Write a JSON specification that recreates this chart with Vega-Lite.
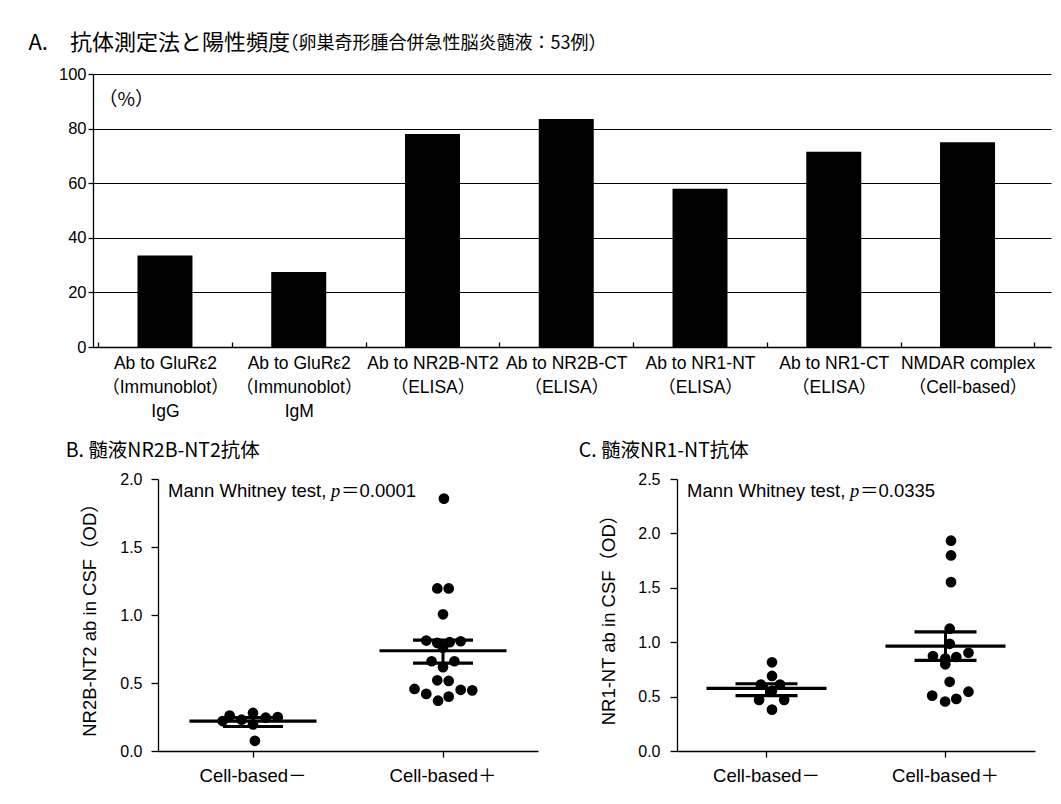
{
  "$schema": "https://vega.github.io/schema/vega-lite/v6.json",
  "background": "white",
  "padding": {"left": 28, "top": 32, "right": 5, "bottom": 5},
  "title": {"text": "A.　抗体測定法と陽性頻度", "anchor": "start", "frame": "bounds", "fontSize": 22, "font": "Noto Sans CJK JP", "fontWeight": "normal", "color": "#000", "dx": -30, "dy": 20, "offset": 0},
  "datasets": {
    "methods": [
      {"method": "Ab to GluRε2\n（Immunoblot）\nIgG", "percent": 33.5},
      {"method": "Ab to GluRε2\n（Immunoblot）\nIgM", "percent": 27.5},
      {"method": "Ab to NR2B-NT2\n（ELISA）", "percent": 78},
      {"method": "Ab to NR2B-CT\n（ELISA）", "percent": 83.5},
      {"method": "Ab to NR1-NT\n（ELISA）", "percent": 58},
      {"method": "Ab to NR1-CT\n（ELISA）", "percent": 71.5},
      {"method": "NMDAR complex\n（Cell-based）", "percent": 75}
    ],
    "B_dots": [
      {"group": "Cell-based－", "od": 0.26, "jitter": -0.123},
      {"group": "Cell-based－", "od": 0.28, "jitter": 0},
      {"group": "Cell-based－", "od": 0.245, "jitter": 0.067},
      {"group": "Cell-based－", "od": 0.25, "jitter": 0.13},
      {"group": "Cell-based－", "od": 0.23, "jitter": -0.06},
      {"group": "Cell-based－", "od": 0.195, "jitter": 0},
      {"group": "Cell-based－", "od": 0.075, "jitter": 0.01},
      {"group": "Cell-based－", "od": 0.22, "jitter": -0.16},
      {"group": "Cell-based＋", "od": 1.856, "jitter": 0.005},
      {"group": "Cell-based＋", "od": 1.195, "jitter": -0.03},
      {"group": "Cell-based＋", "od": 1.195, "jitter": 0.03},
      {"group": "Cell-based＋", "od": 1.005, "jitter": 0},
      {"group": "Cell-based＋", "od": 0.812, "jitter": -0.088},
      {"group": "Cell-based＋", "od": 0.795, "jitter": -0.03},
      {"group": "Cell-based＋", "od": 0.8, "jitter": 0.035},
      {"group": "Cell-based＋", "od": 0.807, "jitter": 0.093},
      {"group": "Cell-based＋", "od": 0.76, "jitter": 0},
      {"group": "Cell-based＋", "od": 0.66, "jitter": -0.06},
      {"group": "Cell-based＋", "od": 0.66, "jitter": 0.06},
      {"group": "Cell-based＋", "od": 0.617, "jitter": 0},
      {"group": "Cell-based＋", "od": 0.52, "jitter": -0.03},
      {"group": "Cell-based＋", "od": 0.515, "jitter": 0.03},
      {"group": "Cell-based＋", "od": 0.456, "jitter": -0.15},
      {"group": "Cell-based＋", "od": 0.42, "jitter": -0.088},
      {"group": "Cell-based＋", "od": 0.37, "jitter": -0.026},
      {"group": "Cell-based＋", "od": 0.4, "jitter": 0.03},
      {"group": "Cell-based＋", "od": 0.45, "jitter": 0.093},
      {"group": "Cell-based＋", "od": 0.446, "jitter": 0.154}
    ],
    "B_stats": [
      {"group": "Cell-based－", "mean": 0.22, "hi": 0.245, "lo": 0.18},
      {"group": "Cell-based＋", "mean": 0.737, "hi": 0.815, "lo": 0.646}
    ],
    "C_dots": [
      {"group": "Cell-based－", "od": 0.815, "jitter": 0},
      {"group": "Cell-based－", "od": 0.69, "jitter": 0},
      {"group": "Cell-based－", "od": 0.61, "jitter": -0.059},
      {"group": "Cell-based－", "od": 0.61, "jitter": 0.042},
      {"group": "Cell-based－", "od": 0.555, "jitter": 0},
      {"group": "Cell-based－", "od": 0.47, "jitter": -0.068},
      {"group": "Cell-based－", "od": 0.47, "jitter": 0.064},
      {"group": "Cell-based－", "od": 0.38, "jitter": 0},
      {"group": "Cell-based＋", "od": 1.933, "jitter": 0},
      {"group": "Cell-based＋", "od": 1.797, "jitter": 0},
      {"group": "Cell-based＋", "od": 1.552, "jitter": 0},
      {"group": "Cell-based＋", "od": 1.124, "jitter": -0.007},
      {"group": "Cell-based＋", "od": 0.985, "jitter": -0.007},
      {"group": "Cell-based＋", "od": 0.873, "jitter": -0.095},
      {"group": "Cell-based＋", "od": 0.85, "jitter": -0.03},
      {"group": "Cell-based＋", "od": 0.864, "jitter": 0.028},
      {"group": "Cell-based＋", "od": 0.903, "jitter": 0.092},
      {"group": "Cell-based＋", "od": 0.797, "jitter": -0.03},
      {"group": "Cell-based＋", "od": 0.636, "jitter": -0.007},
      {"group": "Cell-based＋", "od": 0.509, "jitter": -0.099},
      {"group": "Cell-based＋", "od": 0.455, "jitter": -0.031},
      {"group": "Cell-based＋", "od": 0.479, "jitter": 0.028},
      {"group": "Cell-based＋", "od": 0.545, "jitter": 0.092}
    ],
    "C_stats": [
      {"group": "Cell-based－", "mean": 0.576, "hi": 0.618, "lo": 0.509},
      {"group": "Cell-based＋", "mean": 0.964, "hi": 1.094, "lo": 0.833}
    ]
  },
  "vconcat": [
    {
      "width": 958,
      "height": 273,
      "title": {"text": "（卵巣奇形腫合併急性脳炎髄液：53例）", "anchor": "start", "frame": "bounds", "fontSize": 18, "font": "Noto Sans CJK JP", "fontWeight": "normal", "color": "#000", "dx": 222, "offset": 13},
      "data": {"name": "methods"},
      "mark": {"type": "bar", "color": "#000", "width": 55},
      "encoding": {
        "x": {"field": "method", "type": "nominal", "sort": null,
          "scale": {"paddingInner": 0, "paddingOuter": 0.081, "align": 0.235},
          "axis": {"title": null, "labelAngle": 0, "labelExpr": "split(datum.label, '\\n')", "labelFontSize": 17.5, "labelLineHeight": 24, "labelFont": "Liberation Sans, Noto Sans CJK JP", "labelBaseline": "top", "tickBand": "extent", "tickSize": -5, "labelPadding": 12}},
        "y": {"field": "percent", "type": "quantitative", "scale": {"domain": [0, 100], "nice": false},
          "axis": {"values": [0, 20, 40, 60, 80, 100], "grid": true, "gridColor": "#000", "gridOpacity": 1, "gridWidth": 1.2, "tickSize": 5, "labelPadding": 2, "labelFontSize": 16.5,
            "title": "（%）", "titleAngle": 0, "titleAlign": "left", "titleBaseline": "middle", "titleX": 5, "titleY": 25, "titleFontSize": 19, "titleFont": "Noto Sans CJK JP"}}
      }
    },
    {
      "hconcat": [
        {
          "width": 55,
          "height": 272,
          "data": {"values": []},
          "mark": {"type": "point", "opacity": 0},
          "encoding": {}
        },
        {
          "width": 380,
          "height": 272,
          "title": {"text": "B. 髄液NR2B-NT2抗体", "anchor": "start", "frame": "bounds", "fontSize": 19.5, "font": "Noto Sans CJK JP", "fontWeight": "normal", "color": "#000", "dx": -15, "offset": 10},
          "encoding": {
            "x": {"field": "group", "type": "nominal", "sort": ["Cell-based－", "Cell-based＋"],
              "scale": {"domain": ["Cell-based－", "Cell-based＋"], "paddingInner": 0, "paddingOuter": 0},
              "axis": {"title": null, "labelAngle": 0, "labelFontSize": 18.5, "labelFont": "Liberation Sans, Noto Sans CJK JP", "tickSize": 6, "labelPadding": 9}}
          },
          "layer": [
            {
              "data": {"name": "B_dots"},
              "mark": {"type": "circle", "color": "#000", "opacity": 1, "size": 115},
              "encoding": {
                "xOffset": {"field": "jitter", "type": "quantitative", "scale": {"domain": [-0.5, 0.5], "range": [0, 190]}},
                "y": {"field": "od", "type": "quantitative", "title": "NR2B-NT2 ab in CSF（OD）", "scale": {"domain": [0, 2], "nice": false},
                  "axis": {"values": [0, 0.5, 1, 1.5, 2], "format": ".1f", "labelFontSize": 16, "tickSize": 7, "labelPadding": 9, "titleFontSize": 18.5, "titleFont": "Liberation Sans, Noto Sans CJK JP", "titlePadding": 20}}
              }
            },
            {
              "data": {"name": "B_stats"},
              "mark": {"type": "tick", "color": "#000", "size": 127, "thickness": 3.2, "opacity": 1},
              "encoding": {"y": {"field": "mean", "type": "quantitative", "title": "NR2B-NT2 ab in CSF（OD）", "scale": {"domain": [0, 2], "nice": false}}}
            },
            {
              "data": {"name": "B_stats"},
              "mark": {"type": "tick", "color": "#000", "size": 60, "thickness": 3.2, "opacity": 1},
              "encoding": {"y": {"field": "hi", "type": "quantitative", "title": "NR2B-NT2 ab in CSF（OD）", "scale": {"domain": [0, 2], "nice": false}}}
            },
            {
              "data": {"name": "B_stats"},
              "mark": {"type": "tick", "color": "#000", "size": 60, "thickness": 3.2, "opacity": 1},
              "encoding": {"y": {"field": "lo", "type": "quantitative", "title": "NR2B-NT2 ab in CSF（OD）", "scale": {"domain": [0, 2], "nice": false}}}
            },
            {
              "data": {"name": "B_stats"},
              "mark": {"type": "rule", "color": "#000", "strokeWidth": 3},
              "encoding": {
                "x": {"field": "group", "type": "nominal", "bandPosition": 0.5},
                "y": {"field": "lo", "type": "quantitative", "title": "NR2B-NT2 ab in CSF（OD）", "scale": {"domain": [0, 2], "nice": false}},
                "y2": {"field": "hi"}
              }
            },
            {
              "data": {"values": [{"note": "Mann Whitney test,"}]},
              "mark": {"type": "text", "align": "left", "baseline": "top", "dx": 10, "dy": 3, "fontSize": 18.5, "font": "Liberation Sans", "color": "#000"},
              "encoding": {
                "x": {"datum": "Cell-based－", "type": "nominal", "bandPosition": 0},
                "y": {"datum": 2, "type": "quantitative"},
                "text": {"field": "note"}
              }
            },
            {
              "data": {"values": [{"note": "p"}]},
              "mark": {"type": "text", "align": "left", "baseline": "top", "dx": 173, "dy": 3, "fontSize": 18.5, "font": "Liberation Serif", "fontStyle": "italic", "color": "#000"},
              "encoding": {
                "x": {"datum": "Cell-based－", "type": "nominal", "bandPosition": 0},
                "y": {"datum": 2, "type": "quantitative"},
                "text": {"field": "note"}
              }
            },
            {
              "data": {"values": [{"note": "＝0.0001"}]},
              "mark": {"type": "text", "align": "left", "baseline": "top", "dx": 183, "dy": 3, "fontSize": 18.5, "font": "Liberation Sans, Noto Sans CJK JP", "color": "#000"},
              "encoding": {
                "x": {"datum": "Cell-based－", "type": "nominal", "bandPosition": 0},
                "y": {"datum": 2, "type": "quantitative"},
                "text": {"field": "note"}
              }
            }
          ]
        },
        {
          "width": 119,
          "height": 272,
          "data": {"values": []},
          "mark": {"type": "point", "opacity": 0},
          "encoding": {}
        },
        {
          "width": 358,
          "height": 272,
          "title": {"text": "C. 髄液NR1-NT抗体", "anchor": "start", "frame": "bounds", "fontSize": 19.5, "font": "Noto Sans CJK JP", "fontWeight": "normal", "color": "#000", "dx": -21, "offset": 10},
          "encoding": {
            "x": {"field": "group", "type": "nominal", "sort": ["Cell-based－", "Cell-based＋"],
              "scale": {"domain": ["Cell-based－", "Cell-based＋"], "paddingInner": 0, "paddingOuter": 0},
              "axis": {"title": null, "labelAngle": 0, "labelFontSize": 18.5, "labelFont": "Liberation Sans, Noto Sans CJK JP", "tickSize": 6, "labelPadding": 9}}
          },
          "layer": [
            {
              "data": {"name": "C_dots"},
              "mark": {"type": "circle", "color": "#000", "opacity": 1, "size": 115},
              "encoding": {
                "xOffset": {"field": "jitter", "type": "quantitative", "scale": {"domain": [-0.5, 0.5], "range": [0, 179]}},
                "y": {"field": "od", "type": "quantitative", "title": "NR1-NT ab in CSF（OD）", "scale": {"domain": [0, 2.5], "nice": false},
                  "axis": {"values": [0, 0.5, 1, 1.5, 2, 2.5], "format": ".1f", "labelFontSize": 16, "tickSize": 7, "labelPadding": 10, "titleFontSize": 18.5, "titleFont": "Liberation Sans, Noto Sans CJK JP", "titlePadding": 19}}
              }
            },
            {
              "data": {"name": "C_stats"},
              "mark": {"type": "tick", "color": "#000", "size": 120, "thickness": 3.2, "opacity": 1},
              "encoding": {"y": {"field": "mean", "type": "quantitative", "title": "NR1-NT ab in CSF（OD）", "scale": {"domain": [0, 2.5], "nice": false}}}
            },
            {
              "data": {"name": "C_stats"},
              "mark": {"type": "tick", "color": "#000", "size": 62, "thickness": 3.2, "opacity": 1},
              "encoding": {"y": {"field": "hi", "type": "quantitative", "title": "NR1-NT ab in CSF（OD）", "scale": {"domain": [0, 2.5], "nice": false}}}
            },
            {
              "data": {"name": "C_stats"},
              "mark": {"type": "tick", "color": "#000", "size": 62, "thickness": 3.2, "opacity": 1},
              "encoding": {"y": {"field": "lo", "type": "quantitative", "title": "NR1-NT ab in CSF（OD）", "scale": {"domain": [0, 2.5], "nice": false}}}
            },
            {
              "data": {"name": "C_stats"},
              "mark": {"type": "rule", "color": "#000", "strokeWidth": 3},
              "encoding": {
                "x": {"field": "group", "type": "nominal", "bandPosition": 0.5},
                "y": {"field": "lo", "type": "quantitative", "title": "NR1-NT ab in CSF（OD）", "scale": {"domain": [0, 2.5], "nice": false}},
                "y2": {"field": "hi"}
              }
            },
            {
              "data": {"values": [{"note": "Mann Whitney test,"}]},
              "mark": {"type": "text", "align": "left", "baseline": "top", "dx": 10, "dy": 3, "fontSize": 18.5, "font": "Liberation Sans", "color": "#000"},
              "encoding": {
                "x": {"datum": "Cell-based－", "type": "nominal", "bandPosition": 0},
                "y": {"datum": 2.5, "type": "quantitative"},
                "text": {"field": "note"}
              }
            },
            {
              "data": {"values": [{"note": "p"}]},
              "mark": {"type": "text", "align": "left", "baseline": "top", "dx": 173, "dy": 3, "fontSize": 18.5, "font": "Liberation Serif", "fontStyle": "italic", "color": "#000"},
              "encoding": {
                "x": {"datum": "Cell-based－", "type": "nominal", "bandPosition": 0},
                "y": {"datum": 2.5, "type": "quantitative"},
                "text": {"field": "note"}
              }
            },
            {
              "data": {"values": [{"note": "＝0.0335"}]},
              "mark": {"type": "text", "align": "left", "baseline": "top", "dx": 183, "dy": 3, "fontSize": 18.5, "font": "Liberation Sans, Noto Sans CJK JP", "color": "#000"},
              "encoding": {
                "x": {"datum": "Cell-based－", "type": "nominal", "bandPosition": 0},
                "y": {"datum": 2.5, "type": "quantitative"},
                "text": {"field": "note"}
              }
            }
          ]
        }
      ],
      "bounds": "flush",
      "spacing": 10
    }
  ],
  "spacing": 20,
  "config": {
    "view": {"stroke": null},
    "axis": {"domainColor": "#000", "tickColor": "#000", "labelColor": "#000", "titleColor": "#000", "labelFont": "Liberation Sans", "titleFont": "Liberation Sans", "titleFontWeight": "normal", "domainWidth": 1.3, "tickWidth": 1.3, "grid": false}
  }
}
